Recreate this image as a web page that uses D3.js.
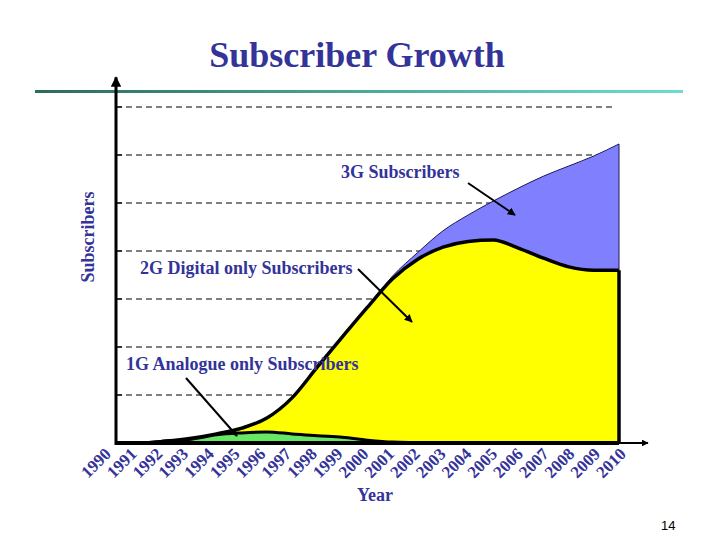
<!DOCTYPE html>
<html><head><meta charset="utf-8">
<script src="https://cdn.jsdelivr.net/npm/d3@7"></script>
<style>
html,body{margin:0;padding:0;background:#fff;}
svg{display:block;}
text{font-family:"Liberation Serif","Times New Roman",serif;}
</style></head>
<body>
<svg id="chart" width="720" height="540"></svg>
<script>
// ---- data ----
const years = ["1990","1991","1992","1993","1994","1995","1996","1997","1998","1999","2000",
               "2001","2002","2003","2004","2005","2006","2007","2008","2009","2010"];
const analog1G  = [0,0,0.04,0.08,0.17,0.21,0.23,0.19,0.15,0.12,0.06,0.02,0.01,0,0,0,0,0,0,0,0];
const digital2G = [0,0,0,0.02,0.02,0.10,0.29,0.75,1.43,2.09,2.77,3.40,3.82,4.08,4.20,4.23,4.06,3.85,3.67,3.60,3.60];
const umts3G    = [0,0,0,0,0,0,0,0,0,0,0.01,0.06,0.14,0.34,0.55,0.81,1.25,1.71,2.10,2.38,2.63];
const gridValues = [1,2,3,4,5,6,7];
const seriesKeys = ["g1","g2","g3"];
const seriesColors = {g1:"#66e866", g2:"#ffff00", g3:"#8080ff"};
const annotations = [
  {text:"3G Subscribers", x:341, y:178, from:[468,183], to:[515,215]},
  {text:"2G Digital only Subscribers", x:140, y:274, from:[358,269], to:[412,322]},
  {text:"1G Analogue only Subscribers", x:126, y:370, from:[186,378], to:[237,436]}
];

const table = years.map((y,i)=>({year:y, g1:analog1G[i], g2:digital2G[i], g3:umts3G[i]}));
const stacked = d3.stack().keys(seriesKeys)(table);

const svg = d3.select("#chart");
const ink = "#333399";

const x = d3.scalePoint().domain(years).range([116, 619]);
const xl = d3.scalePoint().domain(years).range([112, 627]);
const y = d3.scaleLinear().domain([0, 7]).range([443, 107]);

const defs = svg.append("defs");
const grad = defs.append("linearGradient").attr("id","hdr").attr("x1","0").attr("x2","1");
grad.append("stop").attr("offset","0").attr("stop-color","#2d6b5c");
grad.append("stop").attr("offset","0.5").attr("stop-color","#4aa896");
grad.append("stop").attr("offset","1").attr("stop-color","#6fdccf");
defs.append("marker").attr("id","arr").attr("viewBox","0 0 10 10").attr("refX",9).attr("refY",5)
  .attr("markerWidth",4).attr("markerHeight",4).attr("orient","auto")
  .append("path").attr("d","M0,0L10,5L0,10z").attr("fill","#000");
defs.append("marker").attr("id","arrAx").attr("viewBox","0 0 10 10").attr("refX",9).attr("refY",5)
  .attr("markerWidth",3.5).attr("markerHeight",3.5).attr("orient","auto")
  .append("path").attr("d","M0,0L10,5L0,10z").attr("fill","#000");

// title
svg.append("text").attr("x",357).attr("y",67).attr("text-anchor","middle")
  .attr("font-size",36).attr("font-weight","bold").attr("fill",ink).text("Subscriber Growth");
// header rule
svg.append("rect").attr("x",35).attr("y",90).attr("width",648).attr("height",3).attr("fill","url(#hdr)");

// gridlines
svg.append("g").selectAll("line").data(gridValues).join("line")
  .attr("x1",116).attr("x2",612).attr("y1",d=>y(d)).attr("y2",d=>y(d))
  .attr("stroke","#000").attr("stroke-width",1).attr("stroke-dasharray","6,4");
svg.append("g").selectAll("line").data(gridValues).join("line")
  .attr("x1",116).attr("x2",122).attr("y1",d=>y(d)).attr("y2",d=>y(d))
  .attr("stroke","#000").attr("stroke-width",1.2);

// areas
const area = d3.area().x(d=>x(d.data.year)).y0(d=>y(d[0])).y1(d=>y(d[1])).curve(d3.curveMonotoneX);
svg.append("g").selectAll("path").data(stacked).join("path")
  .attr("d",area).attr("fill",d=>seriesColors[d.key]);

// outlines
const topLine = d3.line().x(d=>x(d.data.year)).y(d=>y(d[1])).curve(d3.curveMonotoneX);
svg.append("path").attr("d",topLine(stacked[2])).attr("fill","none").attr("stroke","#1a1a55").attr("stroke-width",1);
svg.append("path").attr("d",topLine(stacked[0])).attr("fill","none").attr("stroke","#000").attr("stroke-width",3);
svg.append("path").attr("d",topLine(stacked[1])).attr("fill","none").attr("stroke","#000").attr("stroke-width",3.5);
const last = years.length-1;
svg.append("line").attr("x1",x(years[last])).attr("x2",x(years[last]))
  .attr("y1",y(stacked[2][last][1])).attr("y2",y(stacked[1][last][1])).attr("stroke","#1a1a55").attr("stroke-width",1);
svg.append("line").attr("x1",x(years[last])).attr("x2",x(years[last]))
  .attr("y1",y(stacked[1][last][1])).attr("y2",y(0)).attr("stroke","#000").attr("stroke-width",3.5);

// axes
svg.append("line").attr("x1",116).attr("x2",648).attr("y1",y(0)).attr("y2",y(0))
  .attr("stroke","#000").attr("stroke-width",2).attr("marker-end","url(#arrAx)");
svg.append("line").attr("x1",x(years[0])).attr("x2",x(years[last])).attr("y1",y(0)).attr("y2",y(0))
  .attr("stroke","#000").attr("stroke-width",4);
svg.append("line").attr("x1",116).attr("x2",116).attr("y1",y(0)+2).attr("y2",y(7.62))
  .attr("stroke","#000").attr("stroke-width",3).attr("marker-end","url(#arrAx)");

// year labels
svg.append("g").selectAll("text").data(years).join("text")
  .attr("transform",d=>`translate(${xl(d)},455) rotate(-45)`)
  .attr("text-anchor","end").attr("font-size",17).attr("font-weight","bold").attr("fill",ink)
  .text(d=>d);

// axis titles
svg.append("text").attr("x",375).attr("y",501).attr("text-anchor","middle")
  .attr("font-size",18).attr("font-weight","bold").attr("fill",ink).text("Year");
svg.append("text").attr("transform","translate(94,237) rotate(-90)").attr("text-anchor","middle")
  .attr("font-size",18).attr("font-weight","bold").attr("fill",ink).text("Subscribers");

// annotations
const ann = svg.append("g");
ann.selectAll("text").data(annotations).join("text")
  .attr("x",d=>d.x).attr("y",d=>d.y).attr("font-size",18).attr("font-weight","bold").attr("fill",ink)
  .text(d=>d.text);
ann.selectAll("line").data(annotations).join("line")
  .attr("x1",d=>d.from[0]).attr("y1",d=>d.from[1]).attr("x2",d=>d.to[0]).attr("y2",d=>d.to[1])
  .attr("stroke","#000").attr("stroke-width",2).attr("marker-end","url(#arr)");

// page number
svg.append("text").attr("x",661).attr("y",530).attr("font-size",13)
  .style("font-family","'Liberation Sans',Arial,sans-serif").attr("fill","#000").text("14");
</script>
</body></html>
